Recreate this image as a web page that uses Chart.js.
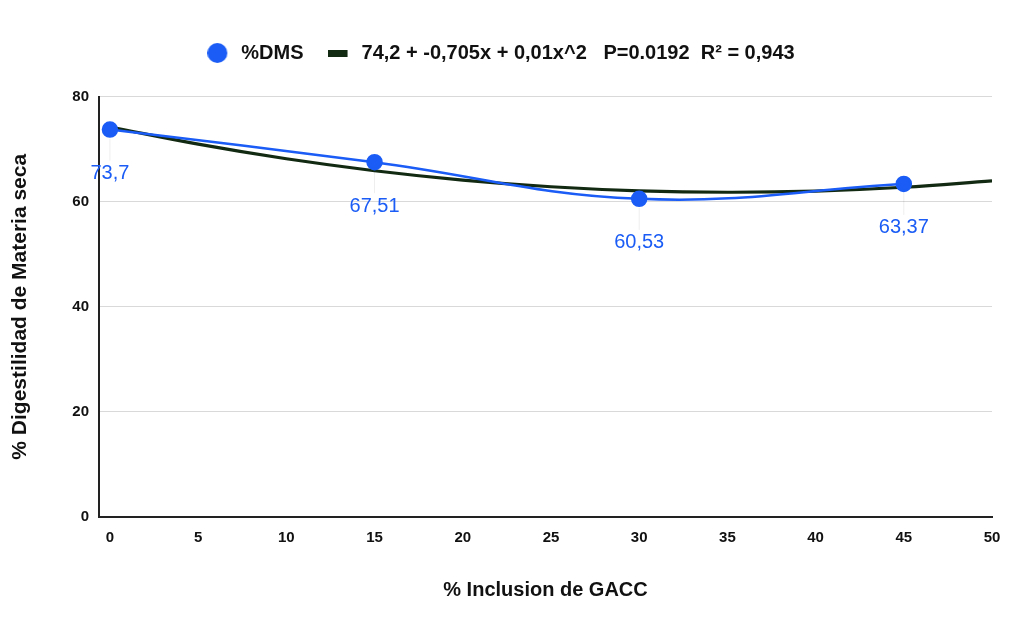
<!DOCTYPE html>
<html>
<head>
<meta charset="utf-8">
<script src="https://cdn.jsdelivr.net/npm/chart.js@4/dist/chart.umd.min.js"></script>
<style>
  html, body { margin: 0; padding: 0; background: #ffffff; }
  #wrap { width: 1010px; height: 624px; }
</style>
</head>
<body>
<div id="wrap"><canvas id="c" width="1010" height="624"></canvas></div>
<script>
// Inclusion levels of GACC (%) and measured dry matter digestibility (%)
const inclusion = [0, 15, 30, 45];
const dms = [73.7, 67.51, 60.53, 63.37];
const dmsLabels = ['73,7', '67,51', '60,53', '63,37'];

// Quadratic trend line sampled along the x axis
const trendX = [0, 5, 10, 15, 20, 25, 30, 35, 40, 45, 50];
const trendY = [74.2, 70.93, 68.15, 65.88, 64.1, 62.83, 62.05, 61.78, 62.0, 62.73, 63.95];

const xTicks = [0, 5, 10, 15, 20, 25, 30, 35, 40, 45, 50];
const yTicks = [0, 20, 40, 60, 80];

const seriesName = '%DMS';
const trendName = '74,2 + -0,705x + 0,01x^2   P=0.0192  R\u00B2 = 0,943';

const BLUE = '#1a5cf5';
const GREEN = '#132a12';
const FONT = "'Liberation Sans', Arial, sans-serif";

// Legend markers: drawn left of centre so the label sits a little further away
function marker(draw) {
  const c = document.createElement('canvas');
  c.width = 28; c.height = 20;
  draw(c.getContext('2d'));
  return c;
}
const dotMarker = marker(ctx => {
  ctx.fillStyle = BLUE;
  ctx.beginPath();
  ctx.arc(10, 10, 10, 0, Math.PI * 2);
  ctx.fill();
});
const barMarker = marker(ctx => {
  ctx.fillStyle = GREEN;
  ctx.fillRect(0, 7, 20, 7);
});

// Extra room between the legend and the plot area, and a small nudge right
const legendGap = {
  id: 'legendGap',
  beforeInit(chart) {
    const lg = chart.legend;
    if (!lg) return;
    const fit = lg.fit;
    lg.fit = function () {
      fit.call(this);
      this.height += 23.5;
    };
  },
  afterLayout(chart) {
    const lg = chart.legend;
    if (!lg) return;
    lg.left += 3;
    lg.right += 3;
  }
};

const valueLabels = {
  id: 'valueLabels',
  afterDatasetsDraw(chart) {
    const meta = chart.getDatasetMeta(0);
    const ctx = chart.ctx;
    ctx.save();
    meta.data.forEach((pt, i) => {
      ctx.strokeStyle = 'rgba(0,0,0,0.07)';
      ctx.lineWidth = 1;
      ctx.beginPath();
      ctx.moveTo(pt.x, pt.y + 9);
      ctx.lineTo(pt.x, pt.y + 31);
      ctx.stroke();
      ctx.fillStyle = BLUE;
      ctx.font = '20px ' + FONT;
      ctx.textAlign = 'center';
      ctx.textBaseline = 'middle';
      ctx.fillText(dmsLabels[i], pt.x, pt.y + 44);
    });
    ctx.restore();
  }
};

new Chart(document.getElementById('c'), {
  type: 'line',
  data: {
    datasets: [
      {
        label: seriesName,
        data: inclusion.map((x, i) => ({ x: x, y: dms[i] })),
        borderColor: BLUE,
        backgroundColor: BLUE,
        borderWidth: 2.5,
        pointRadius: 7,
        pointHoverRadius: 7,
        pointStyle: 'circle',
        tension: 0.4,
        order: 0
      },
      {
        label: trendName,
        data: trendX.map((x, i) => ({ x: x, y: trendY[i] })),
        borderColor: GREEN,
        backgroundColor: GREEN,
        borderWidth: 3.2,
        pointRadius: 0,
        tension: 0.4,
        order: 1
      }
    ]
  },
  options: {
    responsive: false,
    animation: false,
    devicePixelRatio: 1,
    layout: { padding: { left: 8, right: 18, top: 15, bottom: 8 } },
    plugins: {
      legend: {
        position: 'top',
        labels: {
          usePointStyle: true,
          boxWidth: 20,
          boxHeight: 20,
          padding: 28,
          color: '#111',
          font: { family: FONT, size: 20, weight: 'bold' },
          generateLabels(chart) {
            return Chart.defaults.plugins.legend.labels.generateLabels(chart).map((item, i) => {
              item.pointStyle = i === 0 ? dotMarker : barMarker;
              return item;
            });
          }
        }
      },
      tooltip: { enabled: false }
    },
    scales: {
      x: {
        type: 'linear',
        min: -0.62,
        max: 50,
        afterBuildTicks(scale) { scale.ticks = xTicks.map(v => ({ value: v })); },
        afterFit(scale) { scale.height = 99; },
        grid: { display: false },
        border: { display: true, color: '#222', width: 2 },
        ticks: {
          color: '#111',
          padding: 4,
          font: { family: FONT, size: 15, weight: 'bold' }
        },
        title: {
          display: true,
          text: '% Inclusion de GACC',
          color: '#111',
          padding: { top: 4, bottom: 14 },
          font: { family: FONT, size: 20, weight: 'bold' }
        }
      },
      y: {
        min: 0,
        max: 80,
        afterBuildTicks(scale) { scale.ticks = yTicks.map(v => ({ value: v })); },
        afterFit(scale) { scale.width = 91; },
        grid: { color: '#d9d9d9', lineWidth: 1, drawTicks: false },
        border: { display: true, color: '#222', width: 2 },
        ticks: {
          color: '#111',
          padding: 10,
          font: { family: FONT, size: 15, weight: 'bold' }
        },
        title: {
          display: true,
          text: '% Digestilidad de Materia seca',
          color: '#111',
          padding: 0,
          font: { family: FONT, size: 21, weight: 'bold' }
        }
      }
    }
  },
  plugins: [legendGap, valueLabels]
});
</script>
</body>
</html>
